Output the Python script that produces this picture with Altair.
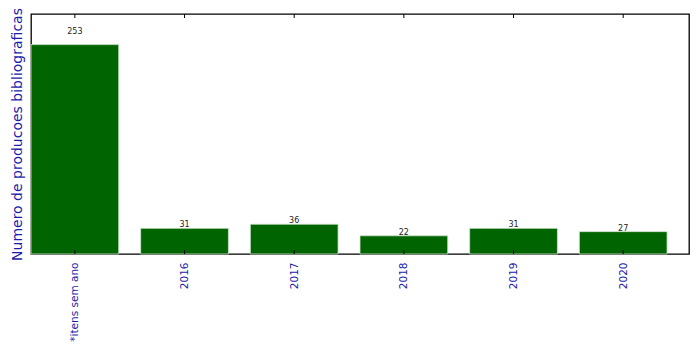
import altair as alt
import pandas as pd

categories = ["*itens sem ano", "2016", "2017", "2018", "2019", "2020"]
values = [253, 31, 36, 22, 31, 27]
y_max = 290

df = pd.DataFrame({"cat": categories, "idx": list(range(len(categories))), "val": values})

label_expr = "[" + ",".join(f"'{c}'" for c in categories) + "][datum.value]"

xscale = alt.Scale(domain=[-0.4, len(categories) - 0.4], nice=False, zero=False)
yscale = alt.Scale(domain=[0, y_max], nice=False)

base = alt.Chart(df).transform_calculate(
    x0="datum.idx - 0.4", x1="datum.idx + 0.4", ly="datum.val * 1.05"
)

bars = base.mark_rect(color="#006400", stroke="#cfe3cf", strokeWidth=0.8).encode(
    x=alt.X("x0:Q", scale=xscale,
            axis=alt.Axis(values=list(range(len(categories))), labelExpr=label_expr,
                          labelAngle=270, labelAlign="right", labelBaseline="middle",
                          labelColor="#1c1ca8", labelFont="DejaVu Sans", labelFontSize=10.5,
                          labelPadding=8, ticks=False, domain=False, grid=False, title=None)),
    x2="x1:Q",
    y=alt.Y("val:Q", scale=yscale,
            axis=alt.Axis(title="Numero de producoes bibliograficas", titleColor="#1c1ca8",
                          titleFont="DejaVu Sans", titleFontSize=14, titleFontWeight="normal",
                          titlePadding=7, labels=False, ticks=False, domain=False, grid=False)),
    y2=alt.datum(0),
)

texts = base.mark_text(fontSize=8, font="DejaVu Sans", color="#222222",
                       baseline="alphabetic", align="center").encode(
    x=alt.X("idx:Q", scale=xscale),
    y=alt.Y("ly:Q", scale=yscale),
    text="val:Q",
)

ticks_bottom = base.mark_rule(color="black", strokeWidth=1).encode(
    x=alt.X("idx:Q", scale=xscale), y=alt.value(240), y2=alt.value(236)
)
ticks_top = base.mark_rule(color="black", strokeWidth=1).encode(
    x=alt.X("idx:Q", scale=xscale), y=alt.value(0), y2=alt.value(4)
)

chart = alt.layer(bars, texts, ticks_bottom, ticks_top).properties(
    width=658, height=240,
    background="white",
    autosize=alt.AutoSizeParams(type="none"),
    padding={"left": 31, "top": 14, "right": 10, "bottom": 100},
).configure_view(stroke="black", strokeWidth=1.3)

chart.save("out.html", embed_options={"renderer": "svg", "actions": False})
